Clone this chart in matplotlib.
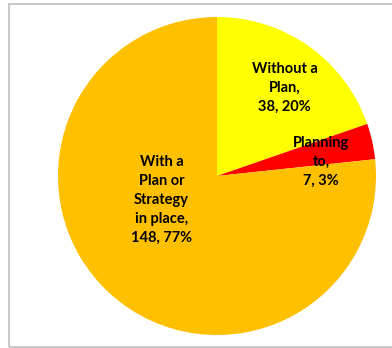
import numpy as np
import matplotlib.pyplot as plt
from matplotlib.patches import Rectangle

labels = ['Without a\nPlan,', 'Planning\nto,', 'With a\nPlan or\nStrategy\nin place,']
counts = [38, 7, 148]
percents = ['20%', '3%', '77%']
colors = ['#FFFF00', '#FF0000', '#FFC000']

plt.rcParams['font.family'] = ['Lato', 'DejaVu Sans']

fig = plt.figure(figsize=(3.92, 3.48), dpi=100)
fig.patches.append(Rectangle((9 / 392, 1 / 348), 1.2, 343.5 / 348, transform=fig.transFigure,
                             fill=False, edgecolor='#bfbfbf', linewidth=1.2))

ax = fig.add_axes([58 / 392, 13 / 348, 318 / 392, 318 / 348])
wedges, _ = ax.pie(counts, colors=colors, startangle=90, counterclock=False, radius=1,
                   wedgeprops=dict(linewidth=0))
ax.set_xlim(-1, 1)
ax.set_ylim(-1, 1)
ax.set_aspect('equal')
ax.axis('off')

# label spots (radius fraction, angle in degrees)
spots = [(0.70, 52.7), (0.66, 7.7), (0.38, 203.6)]
for lab, n, p, (r, a) in zip(labels, counts, percents, spots):
    x = r * np.cos(np.radians(a))
    y = r * np.sin(np.radians(a))
    ax.text(x, y, f'{lab}\n{n}, {p}', ha='center', va='center', fontsize=10.5,
            fontweight='bold', linespacing=1.45, color='black')

fig.savefig('out.png', dpi=100)
